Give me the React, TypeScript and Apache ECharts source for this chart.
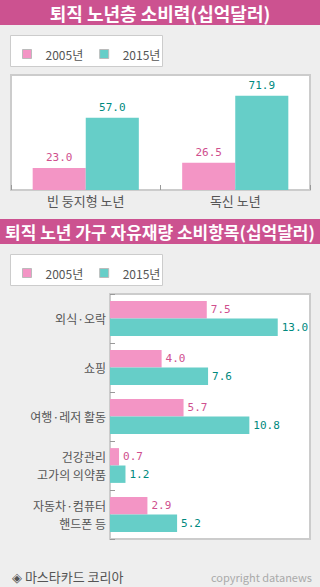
import React, { useEffect, useRef } from "react";
import * as echarts from "echarts";

const categories1 = ["빈 둥지형 노년", "독신 노년"];
const values2005a = [23.0, 26.5];
const values2015a = [57.0, 71.9];

const categories2 = [
  "외식·오락",
  "쇼핑",
  "여행·레저 활동",
  "건강관리\n고가의 의약품",
  "자동차·컴퓨터\n핸드폰 등",
];
const values2005b = [7.5, 4.0, 5.7, 0.7, 2.9];
const values2015b = [13.0, 7.6, 10.8, 1.2, 5.2];

const seriesNames = ["2005년", "2015년"];
const title1 = "퇴직 노년층 소비력(십억달러)";
const title2 = "퇴직 노년 가구 자유재량 소비항목(십억달러)";
const source = "◈ 마스타카드 코리아";
const copyright = "copyright datanews";

const PINK = "#f395c5";
const TEAL = "#66cec8";
const PINK_TXT = "#cf4f8e";
const TEAL_TXT = "#00897e";
const HEAD = "#cc5290";
const FONT = "'Noto Sans CJK KR', 'Noto Sans', sans-serif";
const MONO = "'DejaVu Sans Mono', 'Liberation Mono', monospace";

export default function App() {
  const ref = useRef<HTMLDivElement>(null);
  useEffect(() => {
    if (!ref.current) return;
    const chart = echarts.init(ref.current, undefined, { renderer: "svg" });
    const legendCommon = {
      data: seriesNames,
      icon: "rect",
      itemWidth: 9,
      itemHeight: 9,
      itemGap: 16,
      left: 17,
      selectedMode: false,
      itemStyle: { borderColor: "#bbb", borderWidth: 1 },
      textStyle: { fontSize: 12, color: "#555", fontFamily: FONT, padding: [0, 0, 0, 9] },
    };
    const labelFmt = (p: any) => Number(p.value).toFixed(1);
    const option: any = {
      animation: false,
      backgroundColor: "#eeeeee",
      textStyle: { fontFamily: FONT },
      graphic: [
        { type: "rect", shape: { x: 0, y: 0, width: 320, height: 25 }, style: { fill: HEAD } },
        {
          type: "text",
          x: 160,
          y: 12.5,
          style: {
            text: title1,
            fill: "#fff",
            font: `bold 18px ${FONT}`,
            textAlign: "center",
            textVerticalAlign: "middle",
          },
        },
        {
          type: "rect",
          shape: { x: 10.5, y: 35.5, width: 152, height: 31 },
          style: { fill: "#fff", stroke: "#ccc", lineWidth: 1 },
        },
        { type: "rect", shape: { x: 0, y: 219, width: 320, height: 25 }, style: { fill: HEAD } },
        {
          type: "text",
          x: 160,
          y: 231.5,
          style: {
            text: title2,
            fill: "#fff",
            font: `bold 17px ${FONT}`,
            textAlign: "center",
            textVerticalAlign: "middle",
          },
        },
        {
          type: "rect",
          shape: { x: 10.5, y: 254.5, width: 152, height: 31 },
          style: { fill: "#fff", stroke: "#ccc", lineWidth: 1 },
        },
        {
          type: "text",
          x: 12,
          y: 576,
          style: {
            text: source,
            fill: "#555",
            font: `13px ${FONT}`,
            textAlign: "left",
            textVerticalAlign: "middle",
          },
        },
        {
          type: "text",
          x: 312,
          y: 577,
          style: {
            text: copyright,
            fill: "#aaa",
            font: `11px ${FONT}`,
            textAlign: "right",
            textVerticalAlign: "middle",
          },
        },
      ],
      legend: [
        { ...legendCommon, top: 43 },
        { ...legendCommon, top: 262 },
      ],
      grid: [
        {
          left: 11,
          top: 75,
          width: 299,
          height: 115,
          show: true,
          backgroundColor: "#fff",
          borderColor: "#ccc",
          borderWidth: 2,
        },
        {
          left: 110,
          top: 294,
          width: 200,
          height: 245,
          show: true,
          backgroundColor: "#fff",
          borderColor: "#ccc",
          borderWidth: 2,
        },
      ],
      xAxis: [
        {
          type: "category",
          gridIndex: 0,
          data: categories1,
          axisLine: { show: false },
          axisTick: { show: true, inside: true, length: 5, lineStyle: { color: "#999" } },
          axisLabel: { fontSize: 13, color: "#555", margin: 4, fontFamily: FONT },
        },
        { type: "value", gridIndex: 1, min: 0, max: 15.5, show: false },
      ],
      yAxis: [
        { type: "value", gridIndex: 0, min: 8, max: 86, show: false },
        {
          type: "category",
          gridIndex: 1,
          data: categories2,
          inverse: true,
          axisLine: { show: false },
          axisTick: { show: true, inside: true, length: 5, lineStyle: { color: "#999" } },
          axisLabel: { fontSize: 12, color: "#555", margin: 4, lineHeight: 18, fontFamily: FONT },
        },
      ],
      series: [
        {
          name: seriesNames[0],
          type: "bar",
          xAxisIndex: 0,
          yAxisIndex: 0,
          data: values2005a,
          barGap: "0%",
          barCategoryGap: "29%",
          itemStyle: { color: PINK },
          label: { show: true, position: "top", distance: 5, color: PINK_TXT, fontSize: 11, fontFamily: MONO, formatter: labelFmt },
        },
        {
          name: seriesNames[1],
          type: "bar",
          xAxisIndex: 0,
          yAxisIndex: 0,
          data: values2015a,
          barGap: "0%",
          barCategoryGap: "29%",
          itemStyle: { color: TEAL },
          label: { show: true, position: "top", distance: 5, color: TEAL_TXT, fontSize: 11, fontFamily: MONO, formatter: labelFmt },
        },
        {
          name: seriesNames[0],
          type: "bar",
          xAxisIndex: 1,
          yAxisIndex: 1,
          data: values2005b,
          barGap: "0%",
          barCategoryGap: "29%",
          itemStyle: { color: PINK },
          label: { show: true, position: "right", distance: 4, color: PINK_TXT, fontSize: 11, fontFamily: MONO, formatter: labelFmt },
        },
        {
          name: seriesNames[1],
          type: "bar",
          xAxisIndex: 1,
          yAxisIndex: 1,
          data: values2015b,
          barGap: "0%",
          barCategoryGap: "29%",
          itemStyle: { color: TEAL },
          label: { show: true, position: "right", distance: 4, color: TEAL_TXT, fontSize: 11, fontFamily: MONO, formatter: labelFmt },
        },
      ],
    };
    chart.setOption(option);
    return () => chart.dispose();
  }, []);
  return (
    <div
      ref={ref}
      style={{ position: "fixed", left: 0, top: 0, width: 320, height: 587 }}
    />
  );
}
